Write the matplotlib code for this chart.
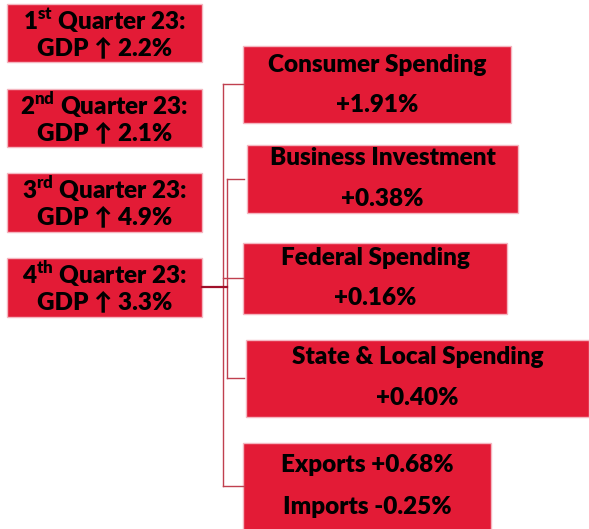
import matplotlib.pyplot as plt
from matplotlib.patches import Rectangle

plt.rcParams['font.family'] = ['Lato', 'DejaVu Sans']
plt.rcParams['mathtext.fontset'] = 'custom'
plt.rcParams['mathtext.rm'] = 'Lato:heavy'
plt.rcParams['mathtext.bf'] = 'Lato:heavy'

# quarterly GDP growth (left column)
quarters = ["1", "2", "3", "4"]
suffixes = ["st", "nd", "rd", "th"]
gdp_growth = ["2.2%", "2.1%", "4.9%", "3.3%"]

# contributions to 4th quarter growth (right column)
components = ["Consumer Spending", "Business Investment", "Federal Spending",
              "State & Local Spending", "Exports +0.68%"]
contributions = ["+1.91%", "+0.38%", "+0.16%", "+0.40%", "Imports -0.25%"]

RED = "#E31B36"
EDGE = "#F4B6C0"
LINE = "#C0404F"
FS = 17.5

fig = plt.figure(figsize=(5.89, 5.29), dpi=100)
ax = fig.add_axes([0, 0, 1, 1])
ax.set_xlim(0, 589)
ax.set_ylim(529, 0)
ax.axis('off')

# left boxes: (x0, x1, y0, y1)
left_boxes = [(7, 202, 4, 62), (7, 202, 89, 147), (7, 202, 173, 232), (7, 202, 258, 317)]
for (x0, x1, y0, y1), q, s, g in zip(left_boxes, quarters, suffixes, gdp_growth):
    ax.add_patch(Rectangle((x0, y0), x1 - x0, y1 - y0, facecolor=RED, edgecolor=EDGE, lw=1))
    cx = (x0 + x1) / 2
    ax.text(cx, y0 + 17, q + r"$^{\rm " + s + "}$ Quarter 23:", ha='center', va='center',
            fontsize=FS, fontweight='heavy', color='black')
    ax.text(cx, y0 + 44, "GDP \u2191 " + g, ha='center', va='center',
            fontsize=FS, fontweight='heavy', color='black')

right_boxes = [(243, 511, 46, 123), (247, 518, 145, 213), (243, 507, 243, 314),
               (246, 589, 340, 417), (243, 491, 443, 532)]
offsets = [(19, 59), (13, 54), (15, 55), (17, 58), (22, 64)]
for (x0, x1, y0, y1), (o1, o2), c, v in zip(right_boxes, offsets, components, contributions):
    ax.add_patch(Rectangle((x0, y0), x1 - x0, y1 - y0, facecolor=RED, edgecolor=EDGE, lw=1))
    cx = (x0 + x1) / 2
    ax.text(cx, y0 + o1, c, ha='center', va='center', fontsize=FS, fontweight='heavy')
    ax.text(cx, y0 + o2, v, ha='center', va='center', fontsize=FS, fontweight='heavy')

# connector lines
ax.plot([223, 223], [84, 486], color=LINE, lw=1)
ax.plot([227, 227], [179, 378], color=LINE, lw=1)
for y, x_start in [(84, 223), (486, 223), (179, 227), (378, 227), (278, 223)]:
    ax.plot([x_start, 244], [y, y], color=LINE, lw=1)
ax.plot([202, 227], [287, 287], color="#A0102A", lw=1.6)

fig.savefig("out.png", dpi=100)
